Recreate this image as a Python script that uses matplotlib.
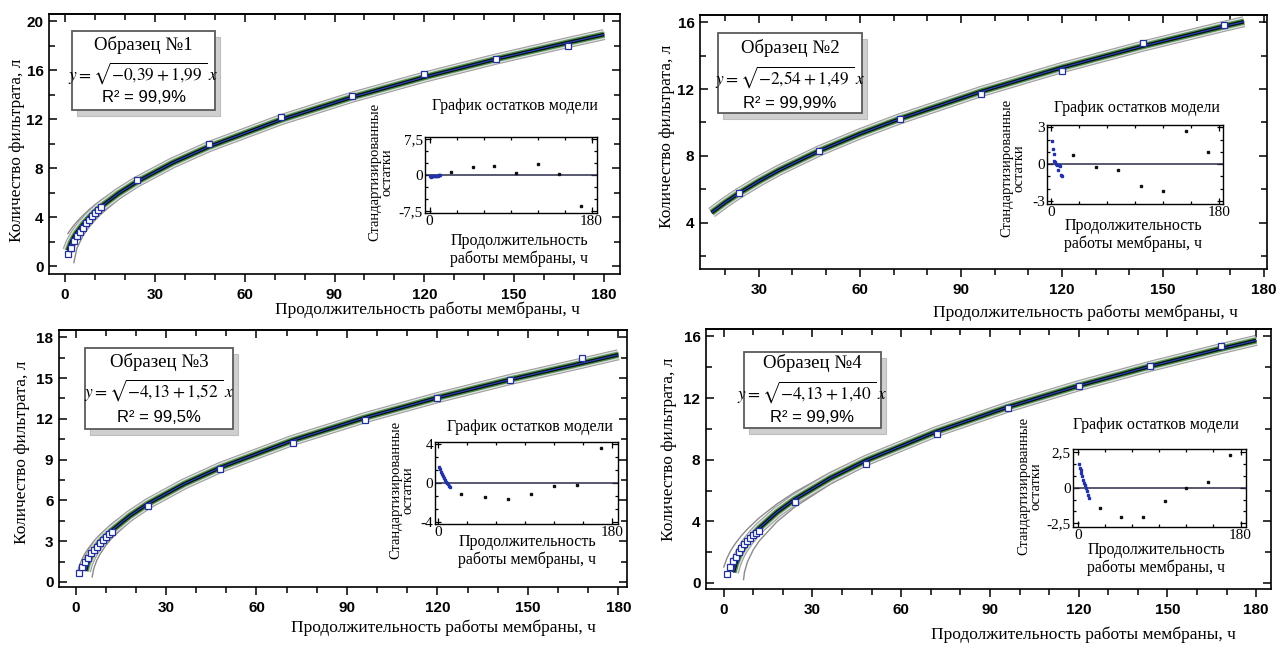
import matplotlib
matplotlib.use("Agg")
import matplotlib.pyplot as plt
import matplotlib.patheffects as pe
from matplotlib.patches import Rectangle
from matplotlib.ticker import MultipleLocator, FixedLocator, FixedFormatter

plt.rcParams['mathtext.fontset'] = 'stix'

W, H = 1276, 645

# ---- data ----
hours_early = [1, 2, 3, 4, 5, 6, 7, 8, 9, 10, 11, 12]
hours_late = [24, 48, 72, 96, 120, 144, 168]
hours = hours_early + hours_late

# sample 1
fit1_x = [1, 2, 3, 4, 6, 8, 10, 12, 18, 24, 36, 48, 72, 96, 120, 144, 168, 180]
fit1_y = [1.26, 1.89, 2.36, 2.75, 3.40, 3.94, 4.42, 4.85, 5.95, 6.88, 8.44, 9.75, 11.95, 13.81, 15.44, 16.92, 18.27, 18.92]
up1_x = [1, 2, 3, 4, 6, 8, 10, 12, 18, 24, 36, 48, 72, 96, 120, 144, 168, 180]
up1_y = [2.66, 3.01, 3.33, 3.62, 4.13, 4.59, 5.00, 5.38, 6.40, 7.27, 8.76, 10.03, 12.18, 14.00, 15.62, 17.08, 18.42, 19.06]
lo1_x = [3, 4, 6, 8, 10, 12, 18, 24, 36, 48, 72, 96, 120, 144, 168, 180]
lo1_y = [0.28, 1.44, 2.46, 3.17, 3.74, 4.24, 5.47, 6.47, 8.11, 9.47, 11.72, 13.61, 15.26, 16.75, 18.12, 18.77]
obs1_x = hours
obs1_y = [0.95, 1.5, 2.05, 2.45, 2.8, 3.15, 3.5, 3.8, 4.1, 4.35, 4.55, 4.8,
          7.0, 10.0, 12.2, 13.9, 15.7, 16.95, 18.0]
res1 = [-0.3, -0.35, -0.3, -0.3, -0.25, -0.3, -0.2, -0.25, -0.15, -0.1, -0.1, 0.0,
        0.6, 1.6, 1.8, 0.4, 2.3, 0.2, -6.4]

# sample 2
fit2_x = [16, 20, 24, 30, 36, 48, 60, 72, 96, 120, 144, 168, 174]
fit2_y = [4.62, 5.22, 5.76, 6.49, 7.15, 8.31, 9.32, 10.23, 11.85, 13.28, 14.56, 15.74, 16.02]
obs2_x = hours_late
obs2_y = [5.8, 8.3, 10.2, 11.7, 13.1, 14.75, 15.8]
res2 = [1.9, 1.2, 0.8, 0.25, 0.15, 0.0, -0.05, -0.5, -0.1, -0.15, -0.85, -0.95,
        0.75, -0.2, -0.5, -1.75, -2.15, 2.7, 1.0]

# sample 3
fit3_x = [3.3, 4, 5, 6, 8, 10, 12, 18, 24, 36, 48, 72, 96, 120, 144, 168, 180]
fit3_y = [0.82, 1.39, 1.88, 2.28, 2.93, 3.35, 3.79, 4.87, 5.76, 7.21, 8.42, 10.42, 12.09, 13.56, 14.89, 16.10, 16.72]
up3_x = [0.5, 1, 2, 3, 4, 6, 8, 12, 18, 24, 36, 48, 72, 96, 120, 144, 168, 180]
up3_y = [0.53, 1.03, 1.62, 2.05, 2.40, 2.99, 3.47, 4.28, 5.27, 6.10, 7.48, 8.65, 10.61, 12.26, 13.71, 15.02, 16.23, 16.84]
lo3_x = [5.5, 6, 7, 8, 10, 12, 18, 24, 36, 48, 72, 96, 120, 144, 168, 180]
lo3_y = [0.37, 0.96, 1.58, 2.01, 2.68, 3.22, 4.45, 5.40, 6.93, 8.18, 10.22, 11.92, 13.41, 14.75, 15.98, 16.58]
obs3_x = hours
obs3_y = [0.65, 1.1, 1.5, 1.8, 2.1, 2.35, 2.6, 2.85, 3.1, 3.3, 3.5, 3.7,
          5.6, 8.3, 10.25, 11.95, 13.5, 14.85, 16.45]
res3 = [1.65, 1.4, 1.1, 0.9, 0.7, 0.5, 0.3, 0.15, 0.0, -0.1, -0.3, -0.45,
        -1.1, -1.45, -1.6, -1.17, -0.35, -0.25, 3.55]

# sample 4
fit4_x = [3.3, 4, 5, 6, 8, 10, 12, 18, 24, 36, 48, 72, 96, 120, 144, 168, 180]
fit4_y = [0.70, 1.21, 1.69, 2.07, 2.66, 3.14, 3.56, 4.59, 5.43, 6.80, 7.94, 9.83, 11.41, 12.80, 14.05, 15.20, 15.74]
up4_x = [0, 1, 2, 3, 4, 6, 8, 12, 18, 24, 36, 48, 72, 96, 120, 144, 168, 180]
up4_y = [1.03, 1.57, 1.97, 2.30, 2.58, 3.08, 3.50, 4.23, 5.13, 5.89, 7.17, 8.26, 10.09, 11.64, 13.00, 14.24, 15.37, 15.91]
lo4_x = [6.7, 7, 8, 10, 12, 18, 24, 36, 48, 72, 96, 120, 144, 168, 180]
lo4_y = [0.22, 0.69, 1.37, 2.16, 2.73, 3.98, 4.93, 6.41, 7.61, 9.56, 11.18, 12.60, 13.87, 15.03, 15.58]
obs4_x = hours
obs4_y = [0.6, 1.05, 1.4, 1.7, 2.0, 2.3, 2.5, 2.75, 2.95, 3.1, 3.25, 3.4,
          5.25, 7.75, 9.65, 11.35, 12.8, 14.1, 15.4]
res4 = [1.65, 1.4, 1.2, 1.0, 0.8, 0.55, 0.35, 0.15, -0.05, -0.25, -0.5, -0.74,
        -1.44, -2.07, -2.02, -0.93, -0.05, 0.37, 2.28]

titles = ['Образец №1', 'Образец №2', 'Образец №3', 'Образец №4']
equations = [r'$y=\sqrt{-0{,}39+1{,}99\,}\;x$', r'$y=\sqrt{-2{,}54+1{,}49\,}\;x$',
             r'$y=\sqrt{-4{,}13+1{,}52\,}\;x$', r'$y=\sqrt{-4{,}13+1{,}40\,}\;x$']
r2_labels = ['R² = 99,9%', 'R² = 99,99%', 'R² = 99,5%', 'R² = 99,9%']
res_ticks = [[-7.5, 0, 7.5], [-3, 0, 3], [-4, 0, 4], [-2.5, 0, 2.5]]
res_tick_labels = [['-7,5', '0', '7,5'], ['-3', '0', '3'], ['-4', '0', '4'], ['-2,5', '0', '2,5']]

ylabel = 'Количество фильтрата, л'
xlabel = 'Продолжительность работы мембраны, ч'
res_title = 'График остатков модели'
res_ylabel = 'Стандартизированные\nостатки'
res_xlabel = 'Продолжительность\nработы мембраны, ч'

SERIF = 'Liberation Serif'
SANS = 'Liberation Sans'

fig = plt.figure(figsize=(W / 100, H / 100), dpi=100)
fig.patch.set_facecolor('white')


def rect(l, t, r, b):
    return [l / W, 1 - b / H, (r - l) / W, (b - t) / H]


def ftext(x, y, s, **kw):
    fig.text(x / W, 1 - y / H, s, **kw)


panels = [
    dict(box=(49, 14, 620, 274), xlim=(-5.3, 185.3), ylim=(-0.65, 20.6), ystep=4,
         fit=(fit1_x, fit1_y), up=(up1_x, up1_y), lo=(lo1_x, lo1_y), obs=(obs1_x, obs1_y), res=res1,
         ylab=(17, 150), xlab=(427, 310),
         tbox=(72, 31, 215, 110), tlines=(45, 73, 98),
         ibox=(425, 137, 597, 213), ixlim=(-5, 186), iylim=(-7.9, 7.9),
         ititle=(515, 106), iylab=(381, 172), ixlab=(519, 250)),
    dict(box=(700, 15, 1267, 269), xlim=(12.55, 180.85), ylim=(1.25, 16.42), ystep=4,
         fit=(fit2_x, fit2_y), up=None, lo=None, obs=(obs2_x, obs2_y), res=res2,
         ylab=(667, 136), xlab=(1085, 313),
         tbox=(718, 33, 862, 113), tlines=(48, 77, 103),
         ibox=(1047, 125, 1223, 204), ixlim=(-4, 184), iylim=(-3.25, 3.2),
         ititle=(1137, 108), iylab=(1013, 168), ixlab=(1133, 235)),
    dict(box=(59, 330, 627, 587), xlim=(-5.5, 182.9), ylim=(-0.37, 18.54), ystep=3,
         fit=(fit3_x, fit3_y), up=(up3_x, up3_y), lo=(lo3_x, lo3_y), obs=(obs3_x, obs3_y), res=res3,
         ylab=(22, 452), xlab=(443, 628),
         tbox=(85, 348, 233, 429), tlines=(362, 390, 417),
         ibox=(435, 442, 618, 524), ixlim=(-3.4, 186), iylim=(-4.2, 4.2),
         ititle=(530, 427), iylab=(402, 490), ixlab=(527, 551)),
    dict(box=(706, 329, 1271, 589), xlim=(-6, 185), ylim=(-0.39, 16.48), ystep=4,
         fit=(fit4_x, fit4_y), up=(up4_x, up4_y), lo=(lo4_x, lo4_y), obs=(obs4_x, obs4_y), res=res4,
         ylab=(669, 449), xlab=(1083, 635),
         tbox=(744, 352, 881, 428), tlines=(363, 392, 417),
         ibox=(1073, 449, 1246, 527), ixlim=(-5.4, 186), iylim=(-2.75, 2.7),
         ititle=(1156, 425), iylab=(1030, 486), ixlab=(1156, 559)),
]

halo = [pe.Stroke(linewidth=8, foreground='#9c9c9c'),
        pe.Stroke(linewidth=6.5, foreground='#dedede'),
        pe.Stroke(linewidth=4.5, foreground='#4d8f4d'),
        pe.Normal()]

for i, p in enumerate(panels):
    ax = fig.add_axes(rect(*p['box']))
    ax.set_xlim(*p['xlim'])
    ax.set_ylim(*p['ylim'])

    if p['up'] is not None:
        ax.plot(*p['up'], color='#8a8a8a', lw=1.0, zorder=2)
        ax.plot(*p['lo'], color='#8a8a8a', lw=1.0, zorder=2)
    ax.plot(*p['fit'], color='#07140a', lw=2.6, zorder=3, path_effects=halo,
            solid_capstyle='butt')
    ax.plot(*p['fit'], color='#2a3fc4', lw=0.8, zorder=4)
    ax.plot(*p['obs'], ls='none', marker='s', ms=4.2, mfc='white', mec='#22309c',
            mew=0.9, zorder=5)

    ax.xaxis.set_major_locator(MultipleLocator(30))
    ax.xaxis.set_minor_locator(MultipleLocator(10))
    ax.yaxis.set_major_locator(MultipleLocator(p['ystep']))
    ax.yaxis.set_minor_locator(MultipleLocator(p['ystep'] / 2))
    ax.tick_params(axis='x', which='both', direction='out', top=False, width=1.1)
    ax.tick_params(axis='y', which='both', direction='in', left=True, right=True, width=1.1)
    ax.tick_params(which='major', length=6, pad=4)
    ax.tick_params(which='minor', length=4)
    sec = ax.secondary_xaxis('top')
    sec.xaxis.set_major_locator(MultipleLocator(30))
    sec.xaxis.set_minor_locator(MultipleLocator(10))
    sec.tick_params(which='both', direction='in', labeltop=False, width=1.1)
    sec.tick_params(which='major', length=6)
    sec.tick_params(which='minor', length=4)
    sec.spines['top'].set_linewidth(1.2)
    for lab in ax.get_xticklabels() + ax.get_yticklabels():
        lab.set_fontfamily(SANS)
        lab.set_fontweight('bold')
        lab.set_fontsize(11)
    for s in ax.spines.values():
        s.set_linewidth(1.2)

    ftext(*p['ylab'], ylabel, rotation=90, ha='center', va='center',
          family=SERIF, fontsize=12.5)
    ftext(*p['xlab'], xlabel, ha='center', va='center', family=SERIF, fontsize=12.5)

    # text box with shadow
    l, t, r, b = p['tbox']
    fig.add_artist(Rectangle((l / W + 5 / W, 1 - (b + 6) / H), (r - l) / W, (b - t) / H,
                             transform=fig.transFigure, facecolor='#cfcfcf',
                             edgecolor='#bdbdbd', lw=0.8, zorder=8))
    fig.add_artist(Rectangle((l / W, 1 - b / H), (r - l) / W, (b - t) / H,
                             transform=fig.transFigure, facecolor='white',
                             edgecolor='#5a5a5a', lw=1.3, zorder=9))
    cx = (l + r) / 2
    ftext(cx, p['tlines'][0], titles[i], ha='center', va='center', family=SERIF,
          fontsize=13.5, zorder=10)
    ftext(cx, p['tlines'][1], equations[i], ha='center', va='center', fontsize=12.5,
          zorder=10)
    ftext(cx, p['tlines'][2], r2_labels[i], ha='center', va='center', family=SANS,
          fontsize=12, zorder=10)

    # residual inset
    ia = fig.add_axes(rect(*p['ibox']))
    ia.set_xlim(*p['ixlim'])
    ia.set_ylim(*p['iylim'])
    ia.axhline(0, color='#2b2b4a', lw=1.1, zorder=2)
    res = p['res']
    ia.plot(hours_early, res[:12], ls='none', marker='s', ms=2.0, color='#2233aa', zorder=3)
    ia.plot(hours_late, res[12:], ls='none', marker='s', ms=2.0, color='#111111', zorder=3)
    ia.xaxis.set_major_locator(FixedLocator([0, 180]))
    ia.xaxis.set_major_formatter(FixedFormatter(['0', '180']))
    ia.xaxis.set_minor_locator(MultipleLocator(30))
    yt = res_ticks[i]
    ia.yaxis.set_major_locator(FixedLocator(yt))
    ia.yaxis.set_major_formatter(FixedFormatter(res_tick_labels[i]))
    ia.yaxis.set_minor_locator(MultipleLocator(yt[2] / 3))
    ia.tick_params(which='both', direction='in', top=True, right=True, width=0.9)
    ia.tick_params(which='major', length=4, pad=1.5)
    ia.tick_params(which='minor', length=2.5)
    for lab in ia.get_xticklabels() + ia.get_yticklabels():
        lab.set_fontfamily(SERIF)
        lab.set_fontsize(11)
    for s in ia.spines.values():
        s.set_linewidth(1.0)
    ftext(*p['ititle'], res_title, ha='center', va='center', family=SERIF, fontsize=11.5)
    ftext(*p['iylab'], res_ylabel, rotation=90, ha='center', va='center',
          family=SERIF, fontsize=10.5, linespacing=0.95)
    ftext(*p['ixlab'], res_xlabel, ha='center', va='center', family=SERIF,
          fontsize=11.5, linespacing=1.15)

fig.savefig('out.png', dpi=100, facecolor='white')
